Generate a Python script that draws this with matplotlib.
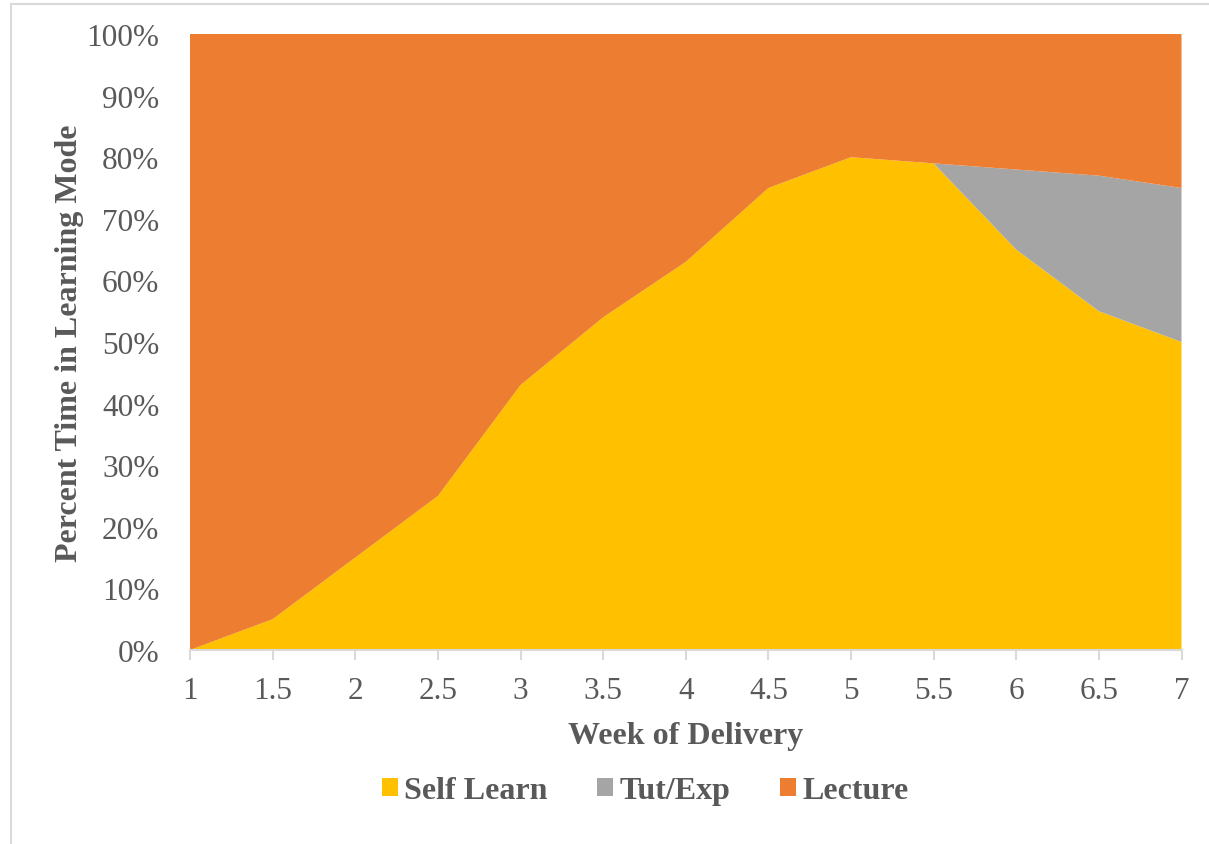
import matplotlib
matplotlib.use("Agg")
import matplotlib.pyplot as plt
from matplotlib.patches import Patch
from matplotlib.lines import Line2D
import numpy as np

weeks = [1, 1.5, 2, 2.5, 3, 3.5, 4, 4.5, 5, 5.5, 6, 6.5, 7]
self_learn = [0, 5, 15, 25, 43, 54, 63, 75, 80, 79, 65, 55, 50]
tut_exp = [0, 0, 0, 0, 0, 0, 0, 0, 0, 0, 13, 22, 25]
lecture = [100 - a - b for a, b in zip(self_learn, tut_exp)]

series_names = ["Self Learn", "Tut/Exp", "Lecture"]
colors = ["#FFC000", "#A5A5A5", "#ED7D31"]
text_color = "#595959"

plt.rcParams['font.family'] = ['Liberation Serif', 'DejaVu Serif']

fig = plt.figure(figsize=(12.09, 8.45), dpi=100)
ax = fig.add_axes([190/1209, 1 - 651/845, (1181.5-190)/1209, (651-35)/845])

ax.stackplot(weeks, self_learn, tut_exp, lecture, colors=colors, linewidth=0)

ax.set_xlim(1, 7)
ax.set_ylim(0, 100)
ax.set_xticks(weeks)
ax.set_xticklabels([f"{w:g}" for w in weeks])
ax.set_yticks(range(0, 101, 10))
ax.set_yticklabels([f"{v}%" for v in range(0, 101, 10)])

for s in ["top", "right", "left"]:
    ax.spines[s].set_visible(False)
ax.spines["bottom"].set_color("#D9D9D9")
ax.spines["bottom"].set_linewidth(1.5)
ax.spines["bottom"].set_zorder(5)

ax.tick_params(axis='x', colors="#D9D9D9", length=7, width=1.5, labelcolor=text_color,
               labelsize=22.5, pad=12)
ax.tick_params(axis='y', length=0, labelcolor=text_color, labelsize=22.5, pad=22)

ax.set_xlabel("Week of Delivery", fontsize=23, fontweight='bold', color=text_color, labelpad=11)
ax.set_ylabel("Percent Time in Learning Mode", fontsize=23, fontweight='bold', color=text_color, labelpad=2)

handles = [Patch(facecolor=c, edgecolor='none') for c in colors]
leg = fig.legend(handles, series_names, loc='center', bbox_to_anchor=(645/1209, 1 - 792/845),
                 ncol=3, frameon=False, handlelength=0.5, handleheight=0.5,
                 handletextpad=0.2, columnspacing=1.55,
                 prop={'family': 'Liberation Serif', 'weight': 'bold', 'size': 23})
for t in leg.get_texts():
    t.set_color(text_color)

# outer frame lines (left and top)
fig.add_artist(Line2D([11/1209, 11/1209], [0, 1 - 5/845], color="#D9D9D9", lw=1.5,
                      transform=fig.transFigure))
fig.add_artist(Line2D([11/1209, 1], [1 - 5/845, 1 - 5/845], color="#D9D9D9", lw=1.5,
                      transform=fig.transFigure))

fig.savefig("out.png", dpi=100)
